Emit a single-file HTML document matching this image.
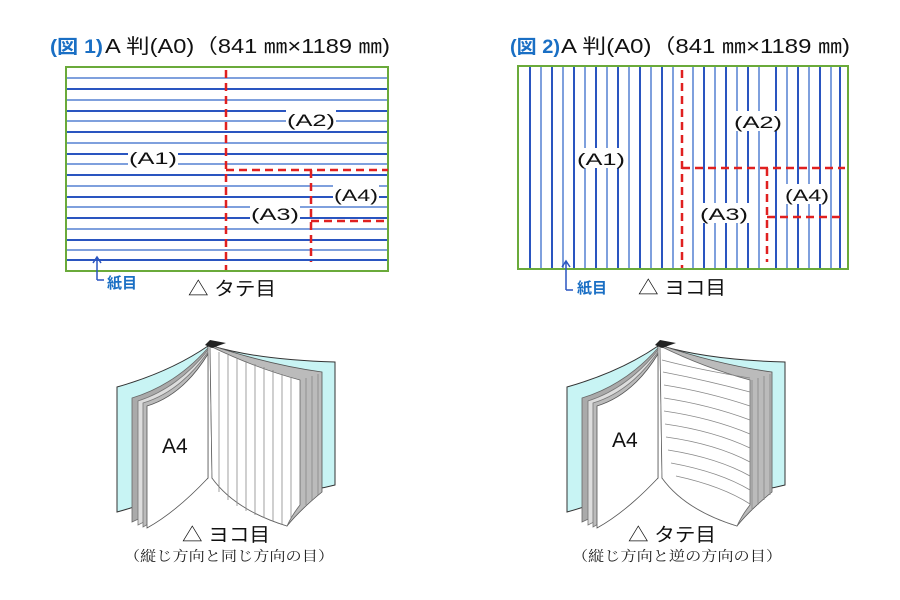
<!DOCTYPE html>
<html><head><meta charset="utf-8"><style>
body{margin:0;background:#fff;}
svg{display:block;font-family:"Liberation Sans","Noto Sans CJK JP",sans-serif;}
</style></head><body>
<svg width="900" height="600" viewBox="0 0 900 600" xmlns="http://www.w3.org/2000/svg">
<defs>
<g id="book">
  <path d="M117,387 Q170,372 208,346 L208,478 Q160,500 117,512 Z" fill="#c8f4f4" stroke="#333" stroke-width="1"/>
  <path d="M212,346 Q260,360 335,362 L335,485 Q280,500 212,478 Z" fill="#c8f4f4" stroke="#333" stroke-width="1"/>
  <path d="M132,398 Q175,385 208,348 L208,478 Q170,505 132,522 Z" fill="#aaa" stroke="#666" stroke-width="0.8"/>
  <path d="M138,401 Q178,388 208,350 L208,478 Q172,508 138,525 Z" fill="#ddd" stroke="#777" stroke-width="0.8"/>
  <path d="M143,403 Q180,392 208,352 L208,478 Q174,510 143,527 Z" fill="#bbb" stroke="#777" stroke-width="0.8"/>
  <path d="M147,406 Q183,395 208,354 L208,478 Q176,512 147,528 Z" fill="#fff" stroke="#555" stroke-width="0.8"/>
  <path d="M210,345 Q270,365 322,372 L322,492 Q300,510 287,526 Q235,510 212,478 Z" fill="#bbb" stroke="#555" stroke-width="0.8"/>
  <path d="M210,346 Q255,368 300,380 L300,505 Q292,515 287,526 Q235,510 212,478 Z" fill="#fff" stroke="#666" stroke-width="0.8"/>
  <path d="M205,345 L210,340 L226,343 L212,348 Z" fill="#222"/>
</g>
</defs>

<text x="50" y="53" font-size="19" fill="#1a6fc4" font-weight="bold" textLength="53" lengthAdjust="spacingAndGlyphs">(図 1)</text>
<text x="105" y="53" font-size="20" fill="#111" textLength="285" lengthAdjust="spacingAndGlyphs">A 判(A0)（841 ㎜×1189 ㎜)</text>
<rect x="66" y="67" width="322" height="204" fill="#fff" stroke="#6aaa3a" stroke-width="2"/>
<g stroke-width="2">
  <line x1="67" y1="78" x2="387" y2="78" stroke="#7fa0dd"/>
  <line x1="67" y1="89" x2="387" y2="89" stroke="#2a55c0"/>
  <line x1="67" y1="100" x2="387" y2="100" stroke="#7fa0dd"/>
  <line x1="67" y1="111" x2="387" y2="111" stroke="#2a55c0"/>
  <line x1="67" y1="121" x2="387" y2="121" stroke="#7fa0dd"/>
  <line x1="67" y1="132" x2="387" y2="132" stroke="#2a55c0"/>
  <line x1="67" y1="143" x2="387" y2="143" stroke="#7fa0dd"/>
  <line x1="67" y1="154" x2="387" y2="154" stroke="#2a55c0"/>
  <line x1="67" y1="164" x2="387" y2="164" stroke="#7fa0dd"/>
  <line x1="67" y1="175" x2="387" y2="175" stroke="#2a55c0"/>
  <line x1="67" y1="186" x2="387" y2="186" stroke="#7fa0dd"/>
  <line x1="67" y1="197" x2="387" y2="197" stroke="#2a55c0"/>
  <line x1="67" y1="207" x2="387" y2="207" stroke="#7fa0dd"/>
  <line x1="67" y1="218" x2="387" y2="218" stroke="#2a55c0"/>
  <line x1="67" y1="229" x2="387" y2="229" stroke="#7fa0dd"/>
  <line x1="67" y1="240" x2="387" y2="240" stroke="#2a55c0"/>
  <line x1="67" y1="250" x2="387" y2="250" stroke="#7fa0dd"/>
  <line x1="67" y1="260" x2="387" y2="260" stroke="#2a55c0"/>
</g>
<g stroke="#e02020" stroke-width="2.5" stroke-dasharray="8,5" fill="none">
  <line x1="226" y1="70" x2="226" y2="270"/>
  <line x1="226" y1="170" x2="388" y2="170"/>
  <line x1="311" y1="170" x2="311" y2="262"/>
  <line x1="311" y1="221" x2="388" y2="221"/>
</g>
<g font-size="17" fill="#111">
  <rect x="128" y="147" width="50" height="20" fill="#fff"/><text x="129" y="164" textLength="48" lengthAdjust="spacingAndGlyphs">(A1)</text>
  <rect x="286" y="109" width="50" height="20" fill="#fff"/><text x="287" y="126" textLength="48" lengthAdjust="spacingAndGlyphs">(A2)</text>
  <rect x="250" y="203" width="50" height="20" fill="#fff"/><text x="251" y="220" textLength="48" lengthAdjust="spacingAndGlyphs">(A3)</text>
  <rect x="333" y="184" width="46" height="20" fill="#fff"/><text x="334" y="201" textLength="44" lengthAdjust="spacingAndGlyphs">(A4)</text>
</g>
<path d="M97,280 L97,258 M93,263 L97,257 L101,263 M97,280 L104,280" stroke="#2a55c0" stroke-width="1.5" fill="none"/>
<text x="107" y="288" font-size="15" fill="#1a6fc4" font-weight="bold">紙目</text>
<text x="188" y="295" font-size="19" fill="#111" textLength="88" lengthAdjust="spacingAndGlyphs">△ タテ目</text>

<text x="510" y="53" font-size="19" fill="#1a6fc4" font-weight="bold" textLength="50" lengthAdjust="spacingAndGlyphs">(図 2)</text>
<text x="561" y="53" font-size="20" fill="#111" textLength="289" lengthAdjust="spacingAndGlyphs">A 判(A0)（841 ㎜×1189 ㎜)</text>
<rect x="518" y="66" width="330" height="203" fill="#fff" stroke="#6aaa3a" stroke-width="2"/>
<g stroke-width="2">
  <line x1="530" y1="67" x2="530" y2="268" stroke="#2a55c0"/>
  <line x1="541" y1="67" x2="541" y2="268" stroke="#7fa0dd"/>
  <line x1="552" y1="67" x2="552" y2="268" stroke="#2a55c0"/>
  <line x1="563" y1="67" x2="563" y2="268" stroke="#7fa0dd"/>
  <line x1="574" y1="67" x2="574" y2="268" stroke="#2a55c0"/>
  <line x1="585" y1="67" x2="585" y2="268" stroke="#7fa0dd"/>
  <line x1="596" y1="67" x2="596" y2="268" stroke="#2a55c0"/>
  <line x1="607" y1="67" x2="607" y2="268" stroke="#7fa0dd"/>
  <line x1="618" y1="67" x2="618" y2="268" stroke="#2a55c0"/>
  <line x1="629" y1="67" x2="629" y2="268" stroke="#7fa0dd"/>
  <line x1="640" y1="67" x2="640" y2="268" stroke="#2a55c0"/>
  <line x1="651" y1="67" x2="651" y2="268" stroke="#7fa0dd"/>
  <line x1="662" y1="67" x2="662" y2="268" stroke="#2a55c0"/>
  <line x1="673" y1="67" x2="673" y2="268" stroke="#7fa0dd"/>
  <line x1="693" y1="67" x2="693" y2="268" stroke="#7fa0dd"/>
  <line x1="704" y1="67" x2="704" y2="268" stroke="#2a55c0"/>
  <line x1="715" y1="67" x2="715" y2="268" stroke="#7fa0dd"/>
  <line x1="726" y1="67" x2="726" y2="268" stroke="#2a55c0"/>
  <line x1="737" y1="67" x2="737" y2="268" stroke="#7fa0dd"/>
  <line x1="748" y1="67" x2="748" y2="268" stroke="#2a55c0"/>
  <line x1="759" y1="67" x2="759" y2="268" stroke="#7fa0dd"/>
  <line x1="776" y1="67" x2="776" y2="268" stroke="#2a55c0"/>
  <line x1="787" y1="67" x2="787" y2="268" stroke="#7fa0dd"/>
  <line x1="798" y1="67" x2="798" y2="268" stroke="#2a55c0"/>
  <line x1="809" y1="67" x2="809" y2="268" stroke="#7fa0dd"/>
  <line x1="820" y1="67" x2="820" y2="268" stroke="#2a55c0"/>
  <line x1="831" y1="67" x2="831" y2="268" stroke="#7fa0dd"/>
  <line x1="840" y1="67" x2="840" y2="268" stroke="#2a55c0"/>
</g>
<g stroke="#e02020" stroke-width="2.5" stroke-dasharray="8,5" fill="none">
  <line x1="682" y1="70" x2="682" y2="268"/>
  <line x1="682" y1="168" x2="845" y2="168"/>
  <line x1="767" y1="168" x2="767" y2="262"/>
  <line x1="767" y1="217" x2="845" y2="217"/>
</g>
<g font-size="17" fill="#111">
  <rect x="576" y="148" width="50" height="20" fill="#fff"/><text x="577" y="165" textLength="48" lengthAdjust="spacingAndGlyphs">(A1)</text>
  <rect x="733" y="111" width="50" height="20" fill="#fff"/><text x="734" y="128" textLength="48" lengthAdjust="spacingAndGlyphs">(A2)</text>
  <rect x="699" y="203" width="50" height="20" fill="#fff"/><text x="700" y="220" textLength="48" lengthAdjust="spacingAndGlyphs">(A3)</text>
  <rect x="784" y="184" width="46" height="20" fill="#fff"/><text x="785" y="201" textLength="44" lengthAdjust="spacingAndGlyphs">(A4)</text>
</g>
<path d="M566,290 L566,262 M562,267 L566,261 L570,267 M566,290 L573,290" stroke="#2a55c0" stroke-width="1.5" fill="none"/>
<text x="577" y="293" font-size="15" fill="#1a6fc4" font-weight="bold">紙目</text>
<text x="638" y="294" font-size="19" fill="#111" textLength="88" lengthAdjust="spacingAndGlyphs">△ ヨコ目</text>

<use href="#book"/>
<g stroke="#888" stroke-width="0.8">
  <line x1="219" y1="352" x2="219" y2="492"/><line x1="228" y1="355" x2="228" y2="500"/>
  <line x1="237" y1="358" x2="237" y2="506"/><line x1="246" y1="361" x2="246" y2="511"/>
  <line x1="255" y1="364" x2="255" y2="515"/><line x1="264" y1="367" x2="264" y2="518"/>
  <line x1="273" y1="370" x2="273" y2="521"/><line x1="282" y1="374" x2="282" y2="524"/>
  <line x1="291" y1="377" x2="291" y2="518"/><line x1="306" y1="378" x2="306" y2="505"/>
  <line x1="312" y1="376" x2="312" y2="500"/><line x1="318" y1="374" x2="318" y2="495"/>
</g>
<text x="162" y="453" font-size="21" fill="#111">A4</text>
<text x="182" y="541" font-size="19" fill="#111" textLength="88" lengthAdjust="spacingAndGlyphs">△ ヨコ目</text>
<text x="124" y="561" font-size="14" fill="#222" textLength="210" lengthAdjust="spacingAndGlyphs" font-family="'Noto Serif CJK SC','Liberation Serif',serif">（縦じ方向と同じ方向の目）</text>

<use href="#book" transform="translate(450,0)"/>
<g stroke="#888" stroke-width="0.8" fill="none">
  <path d="M662,360 Q700,370 750,378"/><path d="M663,372 Q705,380 750,392"/>
  <path d="M664,385 Q708,392 750,406"/><path d="M664,398 Q710,405 750,420"/>
  <path d="M664,411 Q712,418 750,434"/><path d="M665,424 Q714,431 750,448"/>
  <path d="M666,437 Q716,444 750,462"/><path d="M668,450 Q718,458 750,476"/>
  <path d="M671,463 Q720,472 750,490"/><path d="M676,476 Q722,486 750,504"/>
  <path d="M752,380 L752,510"/><path d="M758,378 L758,505"/><path d="M764,376 L764,500"/><path d="M770,374 L770,495"/>
</g>
<text x="612" y="447" font-size="21" fill="#111">A4</text>
<text x="628" y="541" font-size="19" fill="#111" textLength="88" lengthAdjust="spacingAndGlyphs">△ タテ目</text>
<text x="572" y="561" font-size="14" fill="#222" textLength="210" lengthAdjust="spacingAndGlyphs" font-family="'Noto Serif CJK SC','Liberation Serif',serif">（縦じ方向と逆の方向の目）</text>
</svg>
</body></html>
